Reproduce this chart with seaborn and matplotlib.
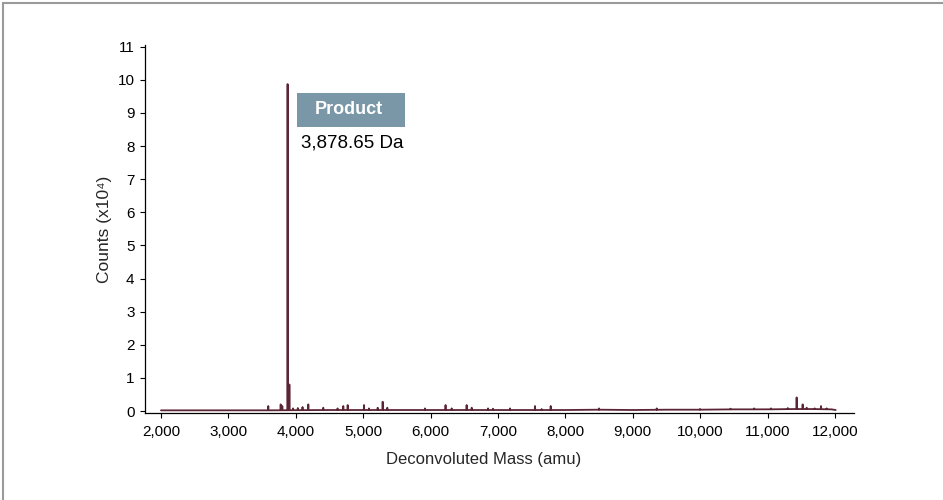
import numpy as np
import pandas as pd
import matplotlib
matplotlib.use("Agg")
import matplotlib.pyplot as plt
from matplotlib.patches import Rectangle
import seaborn as sns

# ------------------------------------------------------------
# data (counts in units of 1e4)
# ------------------------------------------------------------
peak_mass = [3592, 3776, 3800, 3878.65, 3905, 3960, 4030, 4100, 4186, 4408,
             4620, 4705, 4770, 5012, 5086, 5215, 5289, 5358, 5917, 6222,
             6313, 6535, 6610, 6852, 6926, 7178, 7549, 7648, 7782, 8499,
             9355, 9997, 10450, 10800, 11050, 11300, 11431, 11520, 11580,
             11700, 11792, 11877]
peak_height = [0.15, 0.2, 0.15, 9.87, 0.8, 0.08, 0.09, 0.12, 0.2, 0.1,
               0.08, 0.15, 0.18, 0.18, 0.08, 0.1, 0.28, 0.1, 0.08, 0.18,
               0.08, 0.18, 0.1, 0.08, 0.07, 0.08, 0.15, 0.06, 0.15, 0.08,
               0.08, 0.06, 0.07, 0.08, 0.08, 0.09, 0.41, 0.2, 0.1,
               0.08, 0.15, 0.08]

base_mass = [2000, 2500, 3000, 3500, 4500, 5500, 6500, 7500, 8000, 8500,
             9000, 9500, 10000, 10500, 11000, 11400, 11650, 11950, 12010]
base_level = [0.02, 0.02, 0.02, 0.02, 0.03, 0.03, 0.03, 0.03, 0.03, 0.04,
              0.03, 0.04, 0.04, 0.05, 0.05, 0.06, 0.06, 0.05, 0.03]

x_ticks = [2000, 3000, 4000, 5000, 6000, 7000, 8000, 9000, 10000, 11000, 12000]
y_ticks = [0, 1, 2, 3, 4, 5, 6, 7, 8, 9, 10, 11]

line_color = "#5c2535"
box_color = "#7a97a8"

# build a stick-like spectrum: each peak is a narrow spike on the baseline
rows = [(m, b) for m, b in zip(base_mass, base_level)]
for m, h in zip(peak_mass, peak_height):
    b = np.interp(m, base_mass, base_level)
    rows += [(m - 4, b), (m, h), (m + 4, b)]
spec = pd.DataFrame(rows, columns=["mass", "counts"]).sort_values("mass")

# ------------------------------------------------------------
# plot
# ------------------------------------------------------------
sns.set_style("ticks")
plt.rcParams["font.family"] = ["Liberation Sans", "DejaVu Sans"]

fig = plt.figure(figsize=(9.43, 5.0), dpi=100)
ax = fig.add_axes([145 / 943, 87 / 500, (854 - 145) / 943, (413 - 45) / 500])

sns.lineplot(data=spec, x="mass", y="counts", ax=ax, color=line_color,
             linewidth=1.3, estimator=None, sort=False)

ax.set_xlim(1763, 12282)
ax.set_ylim(-0.06, 11.05)
ax.set_xticks(x_ticks)
ax.set_xticklabels([f"{t:,}" for t in x_ticks])
ax.set_yticks(y_ticks)
ax.tick_params(axis="both", labelsize=11, length=3.5, width=0.8,
               colors="black")
ax.tick_params(axis="x", pad=5)
ax.tick_params(axis="y", pad=4)
ax.set_xlabel("Deconvoluted Mass (amu)", fontsize=12)
ax.set_ylabel("Counts (x10\u2074)", fontsize=12.5)
ax.xaxis.set_label_coords((484 - 145) / 709, -0.105)
ax.yaxis.set_label_coords(-0.046, 0.5)
sns.despine(ax=ax)
for s in ["left", "bottom"]:
    ax.spines[s].set_linewidth(0.9)
    ax.spines[s].set_color("black")

# Product label
fig.patches.append(Rectangle((297 / 943, 1 - 127 / 500), 108 / 943, 34 / 500,
                             transform=fig.transFigure, facecolor=box_color,
                             edgecolor="none"))
fig.text(349 / 943, 1 - 110 / 500, "Product", color="white", fontsize=13,
         fontweight="bold", ha="center", va="center")
fig.text(301 / 943, 1 - 143 / 500, "3,878.65 Da", color="black", fontsize=13.5,
         ha="left", va="center")

# outer frame
fig.patches.append(Rectangle((3 / 943, -0.1), 1.2, 1 - 3 / 500 + 0.1,
                             transform=fig.transFigure, facecolor="none",
                             edgecolor="#9a9a9a", linewidth=1.5))

fig.savefig("out.png", dpi=100)
